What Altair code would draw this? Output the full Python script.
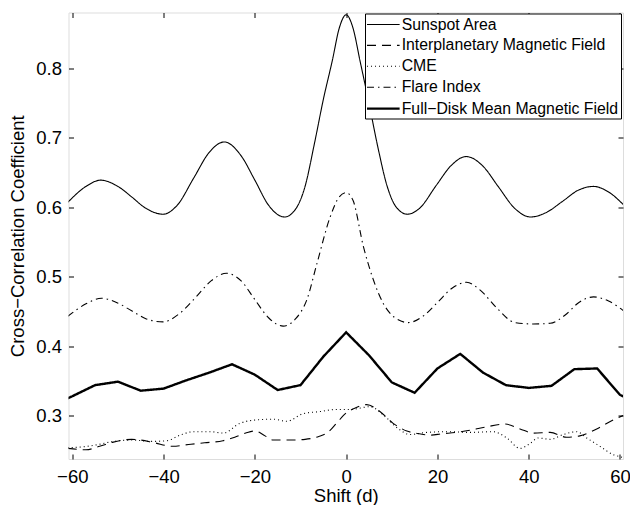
import altair as alt
import pandas as pd

# Plot-area size in pixels
W, H = 554.5, 446.5

SERIES = [
    "Sunspot Area",
    "Interplanetary Magnetic Field",
    "CME",
    "Flare Index",
    "Full−Disk Mean Magnetic Field",
]

X_TICKS = [-60, -40, -20, 0, 20, 40, 60]
Y_TICKS = [0.3, 0.4, 0.5, 0.6, 0.7, 0.8]

# Cross-correlation coefficient versus time shift (days)
sunspot_shift = [-61, -57, -53.8, -50, -47, -44, -40.1, -37, -33.4, -30, -26.7,
                 -23, -20, -17, -13.5, -11, -9, -7, -5, -3, -1.5, 0, 1.5, 3, 5,
                 7, 9, 11, 13.4, 16, 19.8, 23, 26.3, 30, 33.3, 37, 40.4, 44,
                 47.3, 51, 54.2, 57.5, 61]
sunspot_cc = [0.607, 0.630, 0.639, 0.630, 0.615, 0.599, 0.590, 0.603, 0.642,
              0.679, 0.694, 0.674, 0.639, 0.603, 0.586, 0.598, 0.630, 0.690,
              0.755, 0.812, 0.858, 0.877, 0.858, 0.812, 0.750, 0.685, 0.630,
              0.600, 0.590, 0.598, 0.632, 0.660, 0.673, 0.659, 0.630, 0.598,
              0.586, 0.593, 0.608, 0.625, 0.630, 0.622, 0.602]

imf_shift = [-61, -57, -54, -51, -47, -45, -42, -38, -34, -31, -27, -24.4, -22,
             -20, -18, -16, -12, -9, -6, -4, -2, 0, 2, 4.5, 7.4, 10.3, 13.3,
             16, 18.4, 21, 24.2, 27.1, 30.8, 34.8, 38.1, 41, 44.7, 48.3, 51.2,
             54.9, 58.5, 61]
imf_cc = [0.253, 0.251, 0.256, 0.262, 0.266, 0.265, 0.261, 0.256, 0.259, 0.261,
          0.264, 0.269, 0.275, 0.278, 0.272, 0.265, 0.265, 0.266, 0.270, 0.276,
          0.290, 0.304, 0.311, 0.316, 0.306, 0.289, 0.278, 0.274, 0.272, 0.274,
          0.276, 0.279, 0.284, 0.288, 0.281, 0.275, 0.276, 0.269, 0.271, 0.281,
          0.294, 0.301]

cme_shift = [-61, -58, -54.7, -51, -46.7, -43, -39.3, -36.4, -33.5, -29.8,
             -26.9, -23.3, -19.6, -16, -13, -9.4, -5.7, -2.1, 1, 5.2, 8.5,
             11.1, 14, 17.7, 22, 27.1, 32.2, 35.2, 38.1, 40.3, 42.1, 44.7,
             47.6, 50.5, 52.7, 55.6, 58.5, 60, 61]
cme_cc = [0.254, 0.255, 0.258, 0.263, 0.265, 0.263, 0.264, 0.272, 0.277, 0.277,
          0.275, 0.289, 0.294, 0.295, 0.292, 0.303, 0.306, 0.309, 0.309, 0.313,
          0.299, 0.283, 0.273, 0.276, 0.277, 0.276, 0.277, 0.268, 0.253, 0.260,
          0.268, 0.266, 0.273, 0.277, 0.268, 0.256, 0.244, 0.241, 0.239]

flare_shift = [-61, -57, -53.6, -50, -47, -44, -40.1, -36.7, -33, -29.6, -26.2,
               -23, -20, -17, -13.8, -11, -8.6, -6.4, -3.5, -1.5, 0, 1.5, 3.8,
               6, 8.1, 10.5, 13.6, 17, 20, 23.5, 26.4, 29.5, 33, 37, 41, 44.7,
               48, 51, 54.2, 57.5, 61]
flare_cc = [0.443, 0.461, 0.469, 0.462, 0.451, 0.440, 0.435, 0.446, 0.470,
            0.494, 0.505, 0.494, 0.467, 0.441, 0.429, 0.440, 0.467, 0.519,
            0.586, 0.615, 0.621, 0.610, 0.543, 0.495, 0.462, 0.442, 0.434,
            0.444, 0.463, 0.485, 0.492, 0.480, 0.455, 0.434, 0.432, 0.433,
            0.445, 0.463, 0.471, 0.465, 0.450]

fdmmf_shift = [-61, -60, -55, -50, -45, -40, -35, -30, -25, -20, -15, -10, -5,
               0, 5, 10, 15, 20, 25, 30, 35, 40, 45, 50, 55, 60, 61]
fdmmf_cc = [0.325, 0.328, 0.344, 0.349, 0.336, 0.339, 0.351, 0.362, 0.374,
            0.359, 0.337, 0.344, 0.385, 0.420, 0.387, 0.348, 0.333, 0.368,
            0.389, 0.362, 0.344, 0.340, 0.343, 0.367, 0.368, 0.330, 0.327]


def frame(name, xs, ys):
    return pd.DataFrame({"shift": xs, "cc": ys, "series": name})


smooth = pd.concat([
    frame(SERIES[0], sunspot_shift, sunspot_cc),
    frame(SERIES[1], imf_shift, imf_cc),
    frame(SERIES[2], cme_shift, cme_cc),
    frame(SERIES[3], flare_shift, flare_cc),
], ignore_index=True)
thick = frame(SERIES[4], fdmmf_shift, fdmmf_cc)

FONT = "Liberation Sans"
x_scale = alt.Scale(domain=[-60.83, 60.66], nice=False, zero=False)
y_scale = alt.Scale(domain=[0.2377, 0.8803], nice=False, zero=False)
dash_scale = alt.Scale(
    domain=SERIES,
    range=[[1, 0], [9, 6], [1, 3], [7, 4, 1.5, 4], [1, 0]],
)
width_scale = alt.Scale(
    type="ordinal",
    domain=SERIES,
    range=[1.1, 1.1, 1.1, 1.1, 2.4],
)

# Wide, flat sample line: a custom path keeps the entry height small
legend = alt.Legend(
    title=None,
    orient="none",
    legendX=296.5,
    legendY=1,
    symbolType="M-2,0H2",
    symbolSize=266,
    symbolOffset=6.8,
    symbolStrokeColor="black",
    symbolFillColor="transparent",
    labelFont=FONT,
    labelFontSize=15.8,
    labelColor="black",
    labelOffset=8.9,
    labelLimit=400,
    padding=2,
    rowPadding=3.9,
    fillColor="white",
    strokeColor="black",
    cornerRadius=0,
)

main_x_axis = alt.Axis(
    orient="bottom", values=X_TICKS, format="d", ticks=False, domain=False,
    grid=False, labelFlush=False, labelFont=FONT, labelFontSize=18.5,
    labelColor="black", labelPadding=8, title="Shift (d)", titleFont=FONT,
    titleFontSize=18.5, titleFontWeight="normal", titleColor="black",
    titlePadding=0.5,
)
main_y_axis = alt.Axis(
    orient="left", values=Y_TICKS, format=".1f", ticks=False, domain=False,
    grid=False, labelFont=FONT, labelFontSize=18.5, labelColor="black",
    labelPadding=7, title="Cross−Correlation Coefficient", titleFont=FONT,
    titleFontSize=18.5, titleFontWeight="normal", titleColor="black",
    titlePadding=8,
)


def tick_axis(orient, offset, values):
    # inward-pointing ticks: an axis pushed across to the opposite edge
    return alt.Axis(
        orient=orient, offset=offset, values=values, labels=False,
        domain=False, grid=False, ticks=True, tickSize=5, tickWidth=1,
        tickColor="black", title=None,
    )


def style_encoding():
    return dict(
        strokeDash=alt.StrokeDash("series:N", scale=dash_scale, sort=SERIES, legend=legend),
        strokeWidth=alt.StrokeWidth("series:N", scale=width_scale, sort=SERIES, legend=legend),
    )


smooth_layer = alt.Chart(smooth).mark_line(
    interpolate="monotone", clip=True, color="black"
).encode(
    x=alt.X("shift:Q", scale=x_scale, axis=main_x_axis),
    y=alt.Y("cc:Q", scale=y_scale, axis=main_y_axis),
    **style_encoding(),
)

thick_layer = alt.Chart(thick).mark_line(clip=True, color="black").encode(
    x=alt.X("shift:Q", scale=x_scale, axis=None),
    y=alt.Y("cc:Q", scale=y_scale, axis=None),
    **style_encoding(),
)

ticks_low_left = alt.Chart(smooth).mark_line(opacity=0).encode(
    x=alt.X("shift:Q", scale=x_scale, axis=tick_axis("top", -H, X_TICKS)),
    y=alt.Y("cc:Q", scale=y_scale, axis=tick_axis("right", -W, Y_TICKS)),
)

ticks_top_right = alt.Chart(smooth).mark_line(opacity=0).encode(
    x=alt.X("shift:Q", scale=x_scale, axis=tick_axis("bottom", -H, X_TICKS)),
    y=alt.Y("cc:Q", scale=y_scale, axis=tick_axis("left", -W, Y_TICKS)),
)

chart = (
    alt.layer(smooth_layer, thick_layer, ticks_low_left, ticks_top_right)
    .resolve_axis(x="independent", y="independent")
    .properties(
        width=W,
        height=H,
        autosize=alt.AutoSizeParams(type="none"),
        padding={"left": 68.5, "top": 12.5, "right": 7, "bottom": 46},
        background="white",
    )
    .configure_view(stroke="black", strokeWidth=1)
    .configure(font=FONT)
)

chart.save("out.html", embed_options={"renderer": "svg", "actions": False})
